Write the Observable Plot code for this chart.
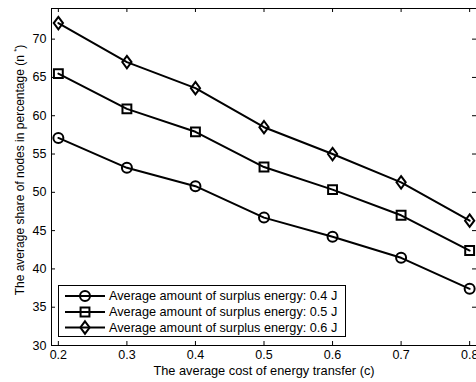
<!DOCTYPE html>
<html>
<head>
<meta charset="utf-8">
<script src="https://cdn.jsdelivr.net/npm/d3@7"></script>
<script src="https://cdn.jsdelivr.net/npm/@observablehq/plot@0.6"></script>
<style>
  html, body { margin: 0; padding: 0; background: #fff; }
  #chart { width: 476px; height: 382px; overflow: hidden; }
</style>
</head>
<body>
<div id="chart"></div>
<script>
const costs = [0.2, 0.3, 0.4, 0.5, 0.6, 0.7, 0.8];
const surplus04 = [57.1, 53.2, 50.8, 46.7, 44.2, 41.45, 37.4];
const surplus05 = [65.5, 60.9, 57.9, 53.3, 50.35, 47.0, 42.4];
const surplus06 = [72.1, 67.0, 63.6, 58.5, 55.0, 51.3, 46.3];
const seriesNames = [
  "Average amount of surplus energy: 0.4 J",
  "Average amount of surplus energy: 0.5 J",
  "Average amount of surplus energy: 0.6 J"
];
const xTicks = [0.2, 0.3, 0.4, 0.5, 0.6, 0.7, 0.8];
const yTicks = [30, 35, 40, 45, 50, 55, 60, 65, 70];
const xLabel = "The average cost of energy transfer (c)";
const yLabel = "The average share of nodes in percentage (n";

const seriesValues = [surplus04, surplus05, surplus06];
const data = [];
seriesNames.forEach((name, i) => {
  costs.forEach((c, j) => data.push({series: name, cost: c, value: seriesValues[i][j]}));
});

const tallDiamond = {
  draw(context, size) {
    const s = Math.sqrt(size);
    const hw = s * 0.52, hh = s * 0.7;
    context.moveTo(0, -hh);
    context.lineTo(hw, 0);
    context.lineTo(0, hh);
    context.lineTo(-hw, 0);
    context.closePath();
  }
};
const symbols = [d3.symbolCircle, d3.symbolSquare, tallDiamond];

const W = 476, H = 382;
const mL = 51, mR = 0, mT = 8, mB = 37;
const pw = W - mL - mR, ph = H - mT - mB;
const tk = 4;

const plot = Plot.plot({
  width: W,
  height: H,
  marginLeft: mL,
  marginRight: mR,
  marginTop: mT,
  marginBottom: mB,
  style: {fontFamily: "'Liberation Sans', Arial, sans-serif", fontSize: "12.5px", background: "#fff", color: "#000"},
  x: {domain: [0.19, 0.81], ticks: xTicks, tickFormat: d3.format(".1f")},
  y: {domain: [30, 74], ticks: yTicks},
  symbol: {domain: seriesNames, range: symbols},
  marks: [
    Plot.frame({stroke: "#000", strokeWidth: 1}),
    Plot.tickX(xTicks, {x: d => d, insetTop: ph - tk, stroke: "#000"}),
    Plot.tickX(xTicks, {x: d => d, insetBottom: ph - tk, stroke: "#000"}),
    Plot.tickY(yTicks, {y: d => d, insetLeft: pw - tk, stroke: "#000"}),
    Plot.tickY(yTicks, {y: d => d, insetRight: pw - tk, stroke: "#000"}),
    Plot.axisX(xTicks, {tickSize: 0, tickPadding: 5, label: null, fill: "#000"}),
    Plot.axisY(yTicks, {tickSize: 0, tickPadding: 5, label: null, fill: "#000"}),
    Plot.line(data, {x: "cost", y: "value", z: "series", stroke: "#000", strokeWidth: 2}),
    Plot.dot(data, {x: "cost", y: "value", symbol: "series", r: 5, stroke: "#000", fill: "none", strokeWidth: 2})
  ]
});
document.getElementById("chart").appendChild(plot);

const svg = d3.select(plot);
// axis labels
svg.append("text")
  .attr("x", 264).attr("y", 375)
  .attr("text-anchor", "middle")
  .attr("font-size", 12.8).attr("fill", "#000")
  .text(xLabel);
const yl = svg.append("text")
  .attr("transform", "translate(24,170) rotate(-90)")
  .attr("text-anchor", "middle")
  .attr("font-size", 12).attr("fill", "#000");
yl.append("tspan").text(yLabel + " ");
yl.append("tspan").attr("font-size", 8).attr("dy", -5).text("*");
yl.append("tspan").attr("dy", 5).text(")");

// legend
const lg = svg.append("g").attr("text-anchor", "start");
lg.append("rect").attr("x", 58.5).attr("y", 285.5).attr("width", 287).attr("height", 51)
  .attr("fill", "#fff").attr("stroke", "#000").attr("stroke-width", 1);
const rowY = [296, 312, 327.5];
seriesNames.forEach((name, i) => {
  const y = rowY[i];
  lg.append("line").attr("x1", 65).attr("x2", 105).attr("y1", y).attr("y2", y)
    .attr("stroke", "#000").attr("stroke-width", 2);
  lg.append("path").attr("d", d3.symbol(symbols[i], 25 * Math.PI)())
    .attr("transform", `translate(85,${y})`)
    .attr("fill", "none").attr("stroke", "#000").attr("stroke-width", 2);
  lg.append("text").attr("x", 109).attr("y", y).attr("dy", "0.35em")
    .attr("text-anchor", "start")
    .attr("font-size", 12.7).attr("fill", "#000").text(name);
});
</script>
</body>
</html>
